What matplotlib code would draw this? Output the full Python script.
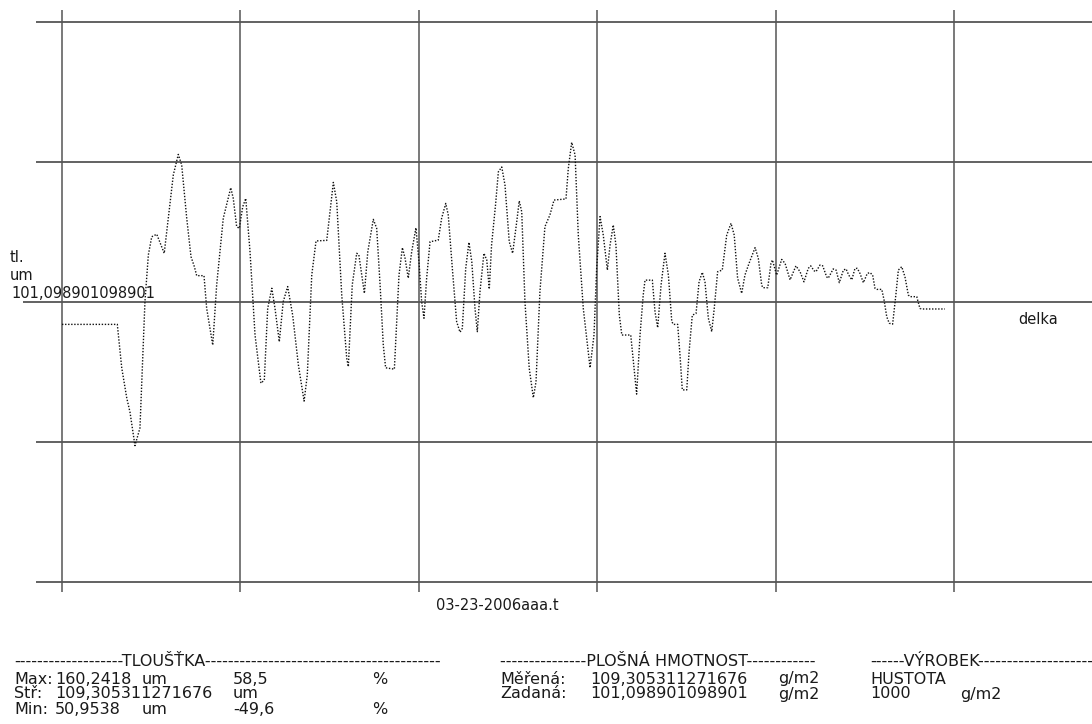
import matplotlib.pyplot as plt

# thickness profile (delka, tl in um)
delka = [0, 31.0, 33.5, 36.3, 38.1, 40.9, 43.7, 46.5, 48.4, 50.3, 53.1, 55.5, 57.3, 59.6, 62.4,
         65.2, 67.1, 69.9, 72.3, 74.2, 75.5, 79.6, 81.1, 84.5, 86.7, 90.4, 94.6, 96.0, 97.9, 99.4,
         101.3, 103.0, 105.4, 108.2, 111.5, 113.4, 115.3, 117.6, 119.4, 121.8, 124.0, 126.5, 129.3,
         132.5, 135.7, 137.5, 140.0, 142.4, 148.4, 149.8, 152.1, 154.0, 156.8, 159.6, 160.5, 162.7,
         165.2, 166.4, 168.0, 169.5, 171.4, 174.5, 176.4, 178.3, 180.1, 181.4, 186.3, 187.6, 188.9,
         190.8, 192.3, 194.1, 196.0, 198.4, 200.1, 201.6, 202.9, 204.4, 206.3, 210.9, 212.8, 215.1,
         216.5, 218.8, 221.2, 223.1, 224.4, 226.3, 228.1, 229.7, 231.5, 232.8, 234.3, 236.5, 238.1,
         239.5, 240.8, 243.0, 244.6, 246.5, 248.3, 250.7, 252.6, 254.9, 256.3, 257.7, 259.5, 261.9,
         264.2, 265.7, 267.9, 270.7, 273.5, 275.8, 282.5, 283.8, 285.7, 287.6, 289.4, 292.2, 296.0,
         298.2, 299.7, 301.6, 303.4, 305.7, 307.2, 309.0, 310.5, 312.4, 313.8, 318.8, 320.3, 322.1,
         324.0, 325.8, 326.8, 330.9, 332.4, 333.9, 335.8, 338.0, 339.9, 341.8, 342.7, 345.1, 346.4,
         347.7, 350.2, 351.5, 353.3, 355.4, 357.1, 358.9, 360.4, 362.3, 364.2, 365.6, 367.5, 370.1,
         372.6, 375.0, 376.8, 378.7, 381.0, 382.8, 385.1, 388.5, 390.3, 392.2, 392.8, 395.6, 397.4,
         398.2, 400.6, 403.4, 405.3, 408.1, 411.4, 413.7, 415.9, 418.3, 419.7, 421.5, 422.6, 424.9,
         426.4, 428.6, 429.5, 432.3, 433.9, 435.7, 438.0, 439.5, 441.0, 442.7, 444.5, 445.8, 447.3,
         449.2, 451.4, 452.9, 454.4, 455.7, 456.7, 459.5, 460.8, 462.3, 463.7, 465.6, 467.5, 468.8,
         470.7, 472.5, 474.4, 475.3, 479.1, 480.9, 481.9, 494.9]
tl = [93.0, 93.0, 77.4, 66.7, 61.7, 49.7, 56.0, 101.1, 117.8, 124.3, 125.2, 121.3, 118.4, 131.0, 146.4,
      153.7, 149.9, 131.0, 117.2, 113.6, 110.4, 110.4, 98.7, 85.6, 107.1, 130.9, 141.8, 138.0, 127.9, 127.3,
      135.0, 138.0, 118.9, 89.2, 72.0, 73.1, 98.7, 105.9, 98.7, 86.8, 101.1, 106.5, 96.3,
      78.5, 65.6, 74.9, 110.6, 122.8, 123.0, 130.9, 143.7, 136.8, 103.5, 80.9, 77.9, 107.1,
      118.4, 117.8, 110.6, 104.1, 118.9, 130.5, 127.3, 107.1, 85.6, 77.5, 77.0, 94.0, 110.6,
      120.4, 116.6, 109.5, 118.9, 127.5, 115.4, 101.1, 95.2, 109.5, 122.5, 123.1, 130.9, 136.2,
      132.1, 113.0, 94.0, 90.2, 91.6, 113.0, 122.3, 115.4, 98.7, 90.4, 104.7, 118.4, 116.0,
      105.6, 121.4, 135.6, 147.5, 149.2, 142.8, 122.5, 118.4, 129.7, 137.1, 133.2, 101.1, 77.3,
      66.8, 72.5, 104.7, 127.9, 132.1, 137.4, 137.8, 148.7, 158.0, 153.5, 124.9, 98.7, 77.5,
      89.2, 113.0, 131.5, 124.9, 112.4, 121.3, 128.5, 121.3, 96.3, 89.2, 89.2, 79.7, 68.1,
      89.2, 103.5, 108.8, 108.8, 97.5, 91.8, 107.1, 118.4, 110.6, 94.0, 93.0, 93.0, 82.1,
      69.6, 69.6, 83.2, 96.3, 96.9, 108.2, 111.6, 108.2, 95.2, 90.4, 98.7, 111.8, 112.4,
      124.9, 129.1, 124.9, 109.5, 104.1, 110.6, 114.8, 120.4, 116.6, 107.1, 106.1, 106.1, 114.8,
      116.0, 110.6, 116.2, 114.8, 108.9, 113.9, 111.8, 108.2, 113.0, 113.9, 112.2, 111.8, 114.2,
      113.9, 110.0, 109.5, 112.8, 112.4, 107.9, 112.4, 112.8, 110.6, 108.9, 113.0, 113.0, 111.2,
      107.9, 111.2, 111.5, 110.6, 105.9, 105.5, 105.5, 101.7, 95.7, 93.4, 93.1, 104.1, 112.4,
      113.6, 110.0, 103.5, 102.9, 102.9, 98.7, 98.5, 98.5]

zadana = 101.098901098901
x_grid = [0, 100, 200, 300, 400, 500]
y_grid = [zadana - 100, zadana - 50, zadana + 50, zadana + 100]

fig = plt.figure(figsize=(10.92, 7.24), dpi=100)
ax = fig.add_axes([0, 0, 1, 1])
ax.set_xlim(-34.75, 577.35)
ax.set_ylim(-49.72, 208.85)
ax.set_axis_off()

gc = '#555555'
ax.hlines(y_grid, -14.6, 577.35, color=gc, lw=1.3)
ax.hlines([zadana], -21.9, 577.35, color=gc, lw=1.3)
ax.vlines(x_grid, -2.6, 205.3, color=gc, lw=1.1)

ax.plot(delka, tl, color='#111111', lw=1.0, linestyle=(0, (1, 1.2)))

tc = '#1a1a1a'
def t(x, y, s, **kw):
    fig.text(x / 1092, 1 - y / 724, s, va='center', ha='left', color=tc, **kw)

t(10, 258, 'tl.', fontsize=10.5)
t(10, 276, 'um', fontsize=10.5)
t(11, 294, '101,098901098901', fontsize=10.5)
t(1018, 320, 'delka', fontsize=10.5)
t(436, 606, '03-23-2006aaa.t', fontsize=10.5)

fs = 11.5
t(14, 661, '-' * 19 + 'TLOUŠŤKA' + '-' * 41, fontsize=fs)
t(14, 679, 'Max:', fontsize=fs)
t(55, 679, '160,2418', fontsize=fs)
t(142, 679, 'um', fontsize=fs)
t(233, 679, '58,5', fontsize=fs)
t(372, 679, '%', fontsize=fs)
t(14, 694, 'Stř:', fontsize=fs)
t(55, 694, '109,305311271676', fontsize=fs)
t(233, 694, 'um', fontsize=fs)
t(14, 709, 'Min:', fontsize=fs)
t(55, 709, '50,9538', fontsize=fs)
t(142, 709, 'um', fontsize=fs)
t(233, 709, '-49,6', fontsize=fs)
t(372, 709, '%', fontsize=fs)

t(500, 661, '-' * 15 + 'PLOŠNÁ HMOTNOST' + '-' * 12, fontsize=fs)
t(500, 679, 'Měřená:', fontsize=fs)
t(590, 679, '109,305311271676', fontsize=fs)
t(778, 679, 'g/m2', fontsize=fs)
t(500, 694, 'Zadaná:', fontsize=fs)
t(590, 694, '101,098901098901', fontsize=fs)
t(778, 694, 'g/m2', fontsize=fs)

t(870, 661, '-' * 6 + 'VÝROBEK' + '-' * 20, fontsize=fs)
t(870, 679, 'HUSTOTA', fontsize=fs)
t(870, 694, '1000', fontsize=fs)
t(960, 694, 'g/m2', fontsize=fs)

fig.savefig('out.png', dpi=100)
